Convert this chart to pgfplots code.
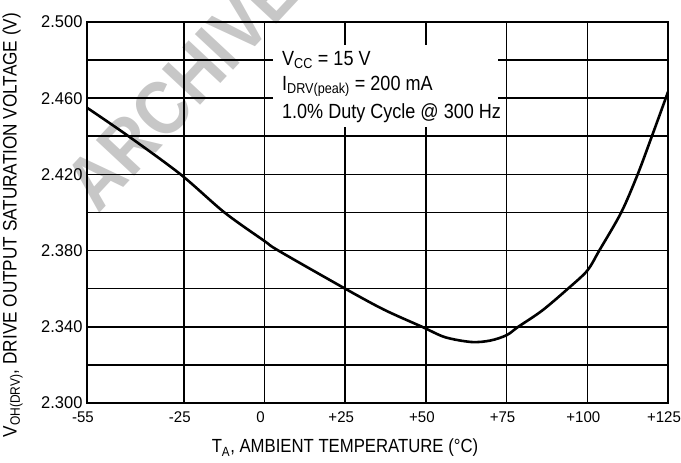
\documentclass[border=0pt]{standalone}
\usepackage{pgfplots}
\pgfplotsset{compat=1.18}
\usepackage{fontspec}
\setmainfont{Liberation Sans}[FakeStretch=0.88]
\newfontfamily\tickfont{Liberation Sans}[FakeStretch=0.97]
\begin{document}
\begin{tikzpicture}
\useasboundingbox (-87pt,-60pt) rectangle (594pt,403pt);
\begin{axis}[
  scale only axis, width=581pt, height=381pt,
  xmin=-55, xmax=125, ymin=2.3, ymax=2.5,
  xtick={-55,-25,0,25,50,75,100,125},
  xticklabels={-55,-25,0,+25,+50,+75,+100,+125},
  ytick={2.30,2.34,2.38,2.42,2.46,2.50},
  yticklabels={2.300,2.340,2.380,2.420,2.460,2.500},
  minor ytick={2.32,2.36,2.40,2.44,2.48},
  grid=both,
  major grid style={black, line width=1.6pt},
  minor grid style={black, line width=1.6pt},
  major tick length=0pt, minor tick length=0pt,
  axis line style={black, line width=2.6pt},
  xticklabel style={font=\tickfont\fontsize{15.5}{15.5}\selectfont, yshift=-5pt, xshift=-4pt},
  yticklabel style={font=\tickfont\fontsize{17}{17}\selectfont, xshift=-1pt},
  xlabel={T\textsubscript{A}, AMBIENT TEMPERATURE (°C)},
  xlabel style={at={(axis description cs:0.444,-0.118)}, anchor=center, font=\fontsize{19}{19}\selectfont},
  ylabel={V\textsubscript{OH(DRV)}, DRIVE OUTPUT SATURATION VOLTAGE (V)},
  ylabel style={at={(axis description cs:-0.128,0.467)}, anchor=center, font=\fontsize{19.5}{19.5}\selectfont},
]
\fill[white] (2.6,2.4449) rectangle (72.3,2.4879);
\addplot[black, line width=2.6pt, smooth, tension=0.5] coordinates {
  (-55,2.455) (-42.1,2.440) (-26.0,2.420) (-12.4,2.400) (0,2.385) (4.3,2.380)
  (25,2.360) (37,2.349) (48.8,2.340) (56,2.3345) (64.2,2.332) (70,2.3328)
  (75,2.3356) (78.6,2.340) (86,2.3485) (94.0,2.360) (100,2.3695) (103.7,2.380)
  (110.5,2.400) (115.6,2.420) (120.0,2.440) (124.3,2.460) (125,2.4634)
};
\node[anchor=base west, inner sep=0pt, font=\fontsize{20.5}{20.5}\selectfont] at (5.4,2.4774) {V\textsubscript{CC} = 15 V};
\node[anchor=base west, inner sep=0pt, font=\fontsize{20.5}{20.5}\selectfont] at (5.4,2.4643) {I\textsubscript{DRV(peak)} = 200 mA};
\node[anchor=base west, inner sep=0pt, font=\fontsize{20.5}{20.5}\selectfont] at (5.4,2.4496) {1.0\% Duty Cycle @ 300 Hz};
\coordinate (wm) at (-25.5,2.466);
\end{axis}
\node[rotate=47, text=black, opacity=0.22, font=\bfseries\fontsize{76}{76}\selectfont] at (wm) {ARCHIVE};
\end{tikzpicture}
\end{document}
